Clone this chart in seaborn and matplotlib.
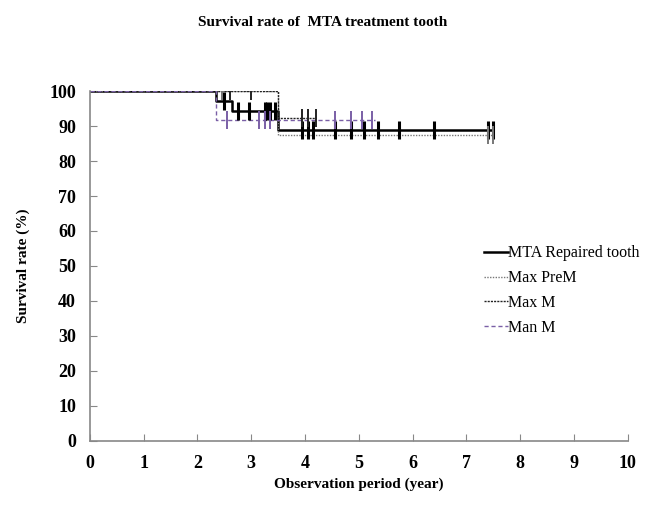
import numpy as np
import pandas as pd
import matplotlib
matplotlib.use("Agg")
import matplotlib.pyplot as plt
import seaborn as sns

# Kaplan-Meier style step data
mta_events = [0, 2.35, 2.65, 3.5]
mta_surv = [100, 97.2, 94.4, 88.9]
mta_censor = [2.5, 2.75, 2.95, 3.25, 3.3, 3.35, 3.45, 3.95, 4.05, 4.15, 4.55, 4.85, 5.1, 5.35, 5.75, 6.4, 7.4, 7.5]
mta_end = 7.5

prem_events = [0, 3.5]
prem_surv = [100, 87.5]
prem_censor = [2.45, 7.4, 7.5]
prem_end = 7.5

maxm_events = [0, 3.5]
maxm_surv = [100, 92.3]
maxm_censor = [2.6, 3.0, 3.95, 4.05, 4.2]
maxm_end = 4.2

manm_events = [0, 2.35]
manm_surv = [100, 91.7]
manm_censor = [2.55, 3.15, 3.25, 3.35, 4.55, 4.85, 5.05, 5.25]
manm_end = 5.3

x_ticks = list(range(0, 11))
y_ticks = list(range(0, 101, 10))


def step_frame(events, surv, end):
    xs = list(events) + [end]
    ys = list(surv) + [surv[-1]]
    return pd.DataFrame({"t": xs, "s": ys})


def censor_frame(events, surv, censor):
    idx = np.searchsorted(events, censor, side="right") - 1
    return pd.DataFrame({"t": censor, "s": np.array(surv)[idx]})


series = [
    ("MTA Repaired tooth", mta_events, mta_surv, mta_censor, mta_end, "black", "-", 1.8),
    ("Max PreM", prem_events, prem_surv, prem_censor, prem_end, "#777777", (0, (1, 1)), 1.0),
    ("Max M", maxm_events, maxm_surv, maxm_censor, maxm_end, "#222222", (0, (1.5, 0.8)), 1.0),
    ("Man M", manm_events, manm_surv, manm_censor, manm_end, "#7a5fa6", (0, (3, 2)), 1.0),
]

fig = plt.figure(figsize=(6.46, 5.09), dpi=100)
ax = fig.add_axes([0.139, 0.134, 0.833, 0.687])

serif = ["Liberation Serif", "DejaVu Serif"]

for name, ev, sv, cen, end, color, ls, lw in series:
    df = step_frame(ev, sv, end)
    sns.lineplot(data=df, x="t", y="s", ax=ax, drawstyle="steps-post", estimator=None,
                 sort=False, color=color, linestyle=ls, linewidth=lw, label=name)
    cdf = censor_frame(ev, sv, cen)
    sns.scatterplot(data=cdf, x="t", y="s", ax=ax, marker="|", s=170, color=color,
                    linewidth=lw + 0.4, legend=False, zorder=3)

ax.set_xlim(0, 10)
ax.set_ylim(0, 100)
ax.set_xticks(x_ticks)
ax.set_yticks(y_ticks)
ax.set_xticklabels([str(v) for v in x_ticks], fontfamily=serif, fontweight="bold", fontsize=13)
ax.set_yticklabels([str(v) for v in y_ticks], fontfamily=serif, fontweight="bold", fontsize=13)
ax.tick_params(direction="in", length=5, color="#888888", pad=10)
for sp in ["top", "right"]:
    ax.spines[sp].set_visible(False)
for sp in ["left", "bottom"]:
    ax.spines[sp].set_color("#888888")
    ax.spines[sp].set_linewidth(1.2)

ax.set_xlabel("Observation period (year)", fontfamily=serif, fontweight="bold", fontsize=11, labelpad=4)
ax.set_ylabel("Survival rate (%)", fontfamily=serif, fontweight="bold", fontsize=11, labelpad=14)
fig.text(0.5, 0.955, "Survival rate of  MTA treatment tooth", ha="center", va="center",
         fontfamily=serif, fontweight="bold", fontsize=11)

leg = ax.legend(loc="upper left", bbox_to_anchor=(0.705, 0.6), frameon=False,
                prop={"family": serif, "size": 11.5}, handlelength=1.5, handletextpad=0.05,
                labelspacing=0.55)

fig.savefig("out.png", dpi=100)
